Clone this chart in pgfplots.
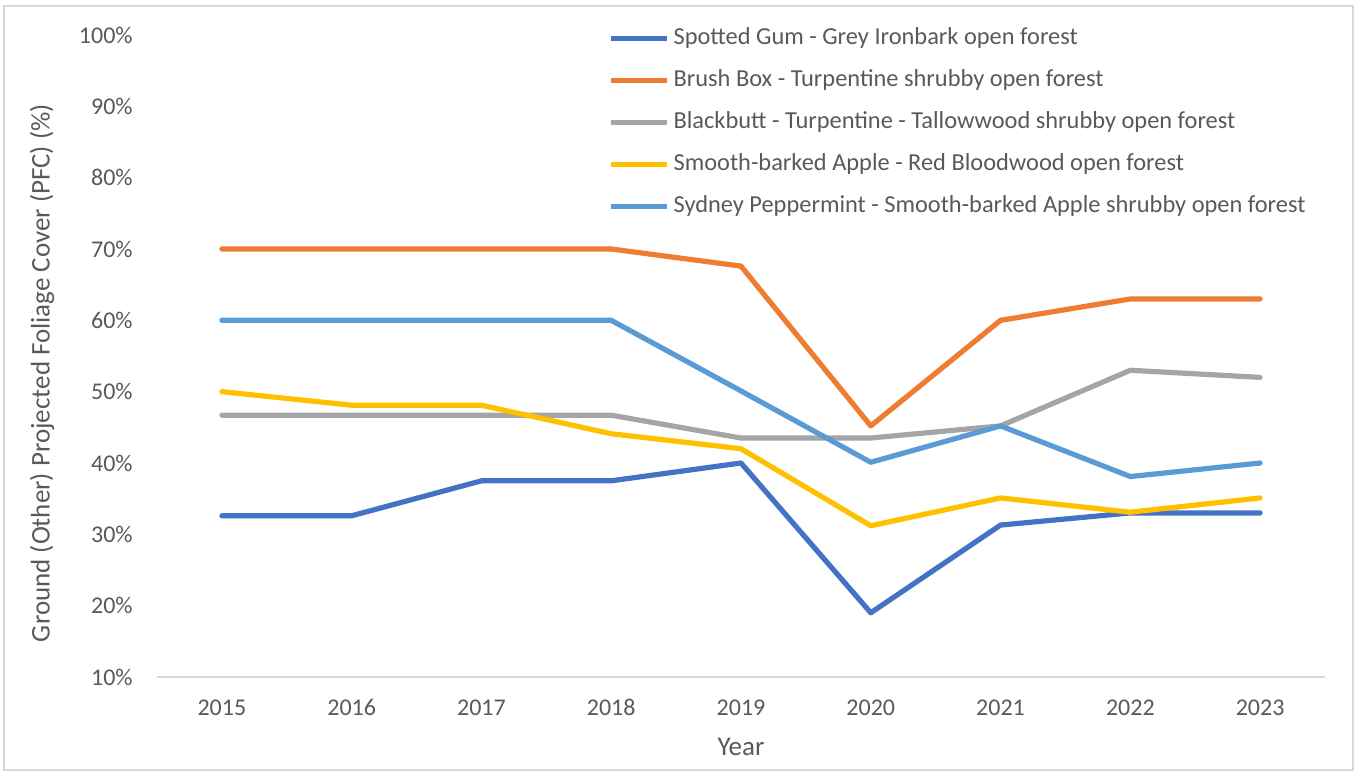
\documentclass[border=0pt]{standalone}
\usepackage{pgfplots}
\pgfplotsset{compat=1.18}
\usepackage{fontspec}
\setmainfont{Carlito}
\definecolor{txt}{HTML}{595959}
\definecolor{cA}{HTML}{4472C4}
\definecolor{cB}{HTML}{ED7D31}
\definecolor{cC}{HTML}{A5A5A5}
\definecolor{cD}{HTML}{FFC000}
\definecolor{cE}{HTML}{5B9BD5}
\definecolor{frame}{HTML}{D9D9D9}
\begin{document}
\begin{tikzpicture}
\useasboundingbox (0,0) rectangle (680pt,387pt);
\draw[frame, line width=0.8pt] (2pt,2pt) rectangle (676.5pt,384pt);
\begin{axis}[
  at={(78.5pt,48.5pt)}, anchor=south west,
  scale only axis, width=584pt, height=321pt,
  xmin=2014.5, xmax=2023.5, ymin=10, ymax=100,
  axis x line*=bottom, axis y line*=left,
  x axis line style={draw=frame, line width=0.8pt, -},
  y axis line style={draw=none},
  major tick length=0pt,
  xtick={2015,2016,2017,2018,2019,2020,2021,2022,2023},
  xticklabels={2015,2016,2017,2018,2019,2020,2021,2022,2023},
  ytick={10,20,30,40,50,60,70,80,90,100},
  yticklabels={10\%,20\%,30\%,40\%,50\%,60\%,70\%,80\%,90\%,100\%},
  ticklabel style={font=\fontsize{12}{14}\selectfont, text=txt},
  xticklabel style={anchor=base, yshift=-19.5pt},
  yticklabel style={anchor=east, inner sep=0pt, xshift=-12pt},
  xlabel={Year}, ylabel={Ground (Other) Projected Foliage Cover (PFC) (\%)},
  label style={font=\fontsize{13.5}{15}\selectfont, text=txt},
  xlabel style={at={(axis description cs:0.5,0)}, anchor=center, yshift=-35pt},
  ylabel style={at={(axis description cs:-0.0985,0.4735)}, anchor=center},
  legend cell align=left,
  legend style={at={(axis description cs:0.381,1.019)}, anchor=north west,
    draw=none, fill=none, font=\fontsize{12.2}{14}\selectfont, text=txt,
    row sep=10pt, column sep=2pt,
    nodes={inner sep=0pt, text height=8.5pt, text depth=2.5pt}},
  legend image code/.code={\draw[#1, line cap=butt] (0pt,0pt) -- (28pt,0pt);},
  every axis plot/.append style={line width=2.6pt, line cap=round, line join=round},
]
\addplot[cA] coordinates {(2015,32.6) (2016,32.6) (2017,37.5) (2018,37.5) (2019,40) (2020,19) (2021,31.3) (2022,33) (2023,33)};
\addlegendentry{Spotted Gum - Grey Ironbark open forest}
\addplot[cB] coordinates {(2015,70) (2016,70) (2017,70) (2018,70) (2019,67.6) (2020,45.2) (2021,60) (2022,63) (2023,63)};
\addlegendentry{Brush Box - Turpentine shrubby open forest}
\addplot[cC] coordinates {(2015,46.7) (2016,46.7) (2017,46.7) (2018,46.7) (2019,43.5) (2020,43.5) (2021,45.2) (2022,53) (2023,52)};
\addlegendentry{Blackbutt - Turpentine - Tallowwood shrubby open forest}
\addplot[cD] coordinates {(2015,50) (2016,48.1) (2017,48.1) (2018,44.1) (2019,42) (2020,31.2) (2021,35.1) (2022,33.1) (2023,35.1)};
\addlegendentry{Smooth-barked Apple - Red Bloodwood open forest}
\addplot[cE] coordinates {(2015,60) (2016,60) (2017,60) (2018,60) (2019,50.1) (2020,40.1) (2021,45.2) (2022,38.1) (2023,40)};
\addlegendentry{Sydney Peppermint - Smooth-barked Apple shrubby open forest}
\end{axis}
\end{tikzpicture}
\end{document}
